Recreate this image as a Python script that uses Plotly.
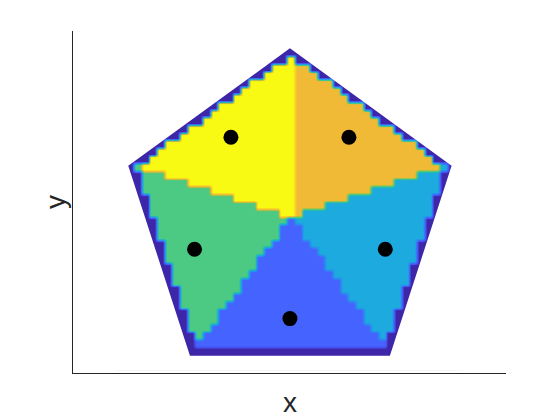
import numpy as np
import plotly.graph_objects as go

# corners of the pentagon (clockwise, data units)
pent_x = [0.0, 0.951, 0.588, -0.588, -0.951]
pent_y = [1.0, 0.309, -0.809, -0.809, 0.309]

# seed points and the value of the region each one owns
seed_x = [-0.347, 0.347, -0.561, 0.561, 0.0]
seed_y = [0.477, 0.477, -0.182, -0.182, -0.59]
seed_val = [5, 4, 3, 2, 1]
wall_val = 0

# parula-like colour stops
cmap = [
    [0.0, "rgb(62,38,168)"],
    [0.1, "rgb(71,80,240)"],
    [0.2, "rgb(69,99,254)"],
    [0.3, "rgb(42,140,240)"],
    [0.4, "rgb(28,170,223)"],
    [0.5, "rgb(35,188,175)"],
    [0.6, "rgb(76,202,131)"],
    [0.7, "rgb(165,192,70)"],
    [0.8, "rgb(240,186,54)"],
    [0.9, "rgb(250,215,35)"],
    [1.0, "rgb(249,250,20)"],
]

h = 0.045      # mesh size
band = 0.04    # wall thickness
oy = 0.02      # mesh offset in y

xs = np.arange(-1.02, 1.02 + 1e-9, h / 2)
ys = np.arange(-0.88, 1.07 + 1e-9, h / 2)
X, Y = np.meshgrid(xs, ys)
Xq = np.round(X / h) * h
Yq = np.round((Y - oy) / h) * h + oy

# distance to the wall (positive inside)
px_, py_ = np.array(pent_x), np.array(pent_y)
dist = np.full(X.shape, np.inf)
for i in range(len(px_)):
    j = (i + 1) % len(px_)
    dx, dy = px_[j] - px_[i], py_[j] - py_[i]
    nx, ny = -dy, dx
    nl = np.hypot(nx, ny)
    d = ((px_[i] - Xq) * nx + (py_[i] - Yq) * ny) / nl
    dist = np.minimum(dist, d)

# nearest seed
sx, sy = np.array(seed_x), np.array(seed_y)
d2 = (Xq[..., None] - sx) ** 2 + (Yq[..., None] - sy) ** 2
Z = np.array(seed_val, dtype=float)[np.argmin(d2, axis=-1)]
Z[dist < band] = wall_val

fig = go.Figure()
fig.add_trace(go.Heatmap(
    x=xs, y=ys, z=Z,
    zmin=0, zmax=5,
    colorscale=cmap,
    zsmooth="best",
    showscale=False,
    hoverinfo="skip",
))
fig.add_trace(go.Scatter(
    x=seed_x, y=seed_y,
    mode="markers",
    marker=dict(color="black", size=15),
    hoverinfo="skip",
))

# white mask outside the pentagon
rect = "M -1.06,-0.895 L 1.06,-0.895 L 1.06,1.09 L -1.06,1.09 Z"
pent = "M " + " L ".join(f"{x},{y}" for x, y in zip(pent_x, pent_y)) + " Z"
fig.add_shape(type="path", path=rect + " " + pent, fillrule="evenodd",
              fillcolor="white", line=dict(width=0), layer="above")

axis_style = dict(showline=True, linecolor="#262626", linewidth=1,
                  ticks="", showticklabels=False, showgrid=False,
                  zeroline=False)
fig.update_xaxes(range=[-1.276, 1.271], **axis_style)
fig.update_yaxes(range=[-0.910, 1.102], **axis_style)

# axis labels
fig.add_annotation(text="x", x=0.5, y=0, xref="paper", yref="paper",
                   yanchor="middle", yshift=-29, showarrow=False)
fig.add_annotation(text="y", x=0, y=0.5, xref="paper", yref="paper",
                   xanchor="center", xshift=-18, textangle=-90,
                   showarrow=False)

# page body has an 8px margin, so the figure is 8px smaller
fig.update_layout(
    width=552, height=412,
    margin=dict(l=65, r=54, t=23, b=47),
    paper_bgcolor="white", plot_bgcolor="white",
    font=dict(family="Liberation Sans", size=28, color="#262626"),
    showlegend=False,
)

fig.write_html("out.html")
